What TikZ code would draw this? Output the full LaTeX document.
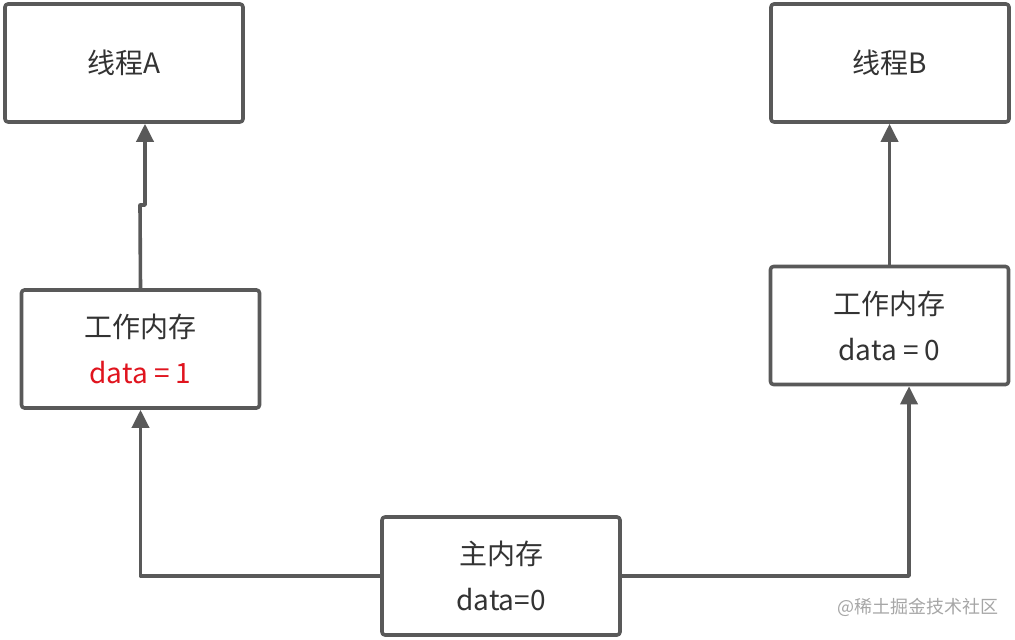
\documentclass[tikz,border=0pt]{standalone}
\usepackage{fontspec}
\setmainfont{Noto Sans CJK SC}
\usetikzlibrary{arrows.meta}
\definecolor{linegray}{HTML}{595959}
\definecolor{textgray}{HTML}{333333}
\definecolor{datared}{HTML}{E0141E}
\begin{document}
\begin{tikzpicture}[x=0.5pt, y=-0.5pt, font=\fontsize{14}{23}\selectfont, line join=round,
		box/.style={draw=linegray, line width=1.8pt, rounded corners=1.5pt, fill=white,
			minimum width=119pt, minimum height=59pt, align=center, text=textgray, inner sep=0pt},
		link/.style={draw=linegray, line width=1.8pt, -{Triangle[width=8.5pt,length=9pt]}}]
	
	\useasboundingbox (0,0) rectangle (1015,640);
	
	\node[box] (threadA) at (124,63) {线程A};
	\node[box] (threadB) at (890,63) {线程B};
	\node[box] (workA) at (140.5,349) {工作内存\\\textcolor{datared}{data = 1}};
	\node[box] (workB) at (889.5,325.5) {工作内存\\data = 0};
	\node[box] (mainmem) at (501,576) {主内存\\data=0};
	
	% main memory to the working copies
	\draw[link] (mainmem.west) -| (workA.south);
	\draw[link] (mainmem.east) -| ([xshift=9.75pt]workB.south);
	
	% working copies up to the threads
	\draw[link] (workA.north) -- (140,205) -- (145,205) -- (145,0 |- threadA.south);
	\draw[link] (workB.north) -- (threadB.south -| workB.north);
	
	\node[text=gray!70, font=\fontsize{9}{11}\selectfont] (mark) at (918,607) {@稀土掘金技术社区};
\end{tikzpicture}
\end{document}
